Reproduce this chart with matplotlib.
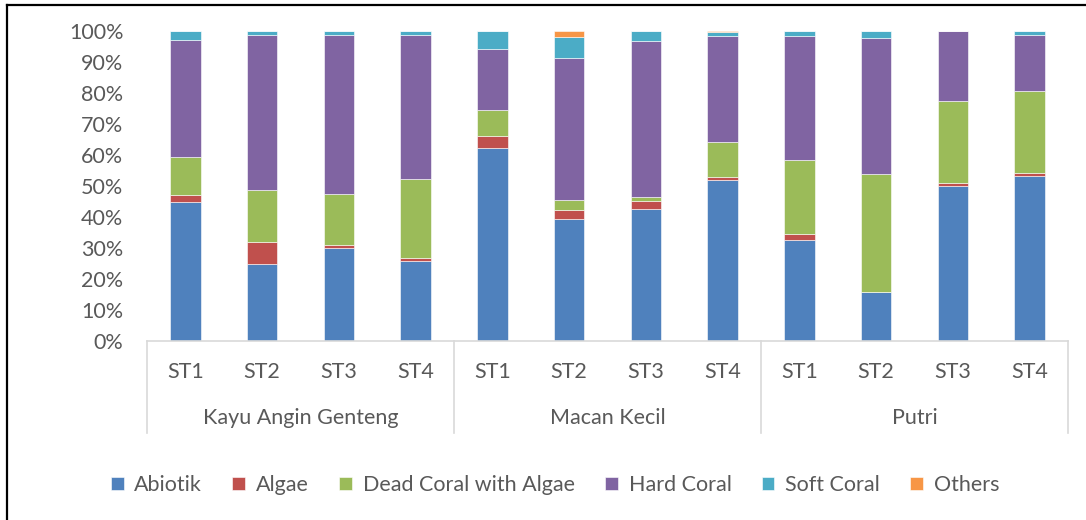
import numpy as np
import matplotlib.pyplot as plt
from matplotlib.lines import Line2D
from matplotlib.transforms import blended_transform_factory

plt.rcParams['font.family'] = ['Lato', 'DejaVu Sans']

# data (percent of cover)
groups = ["Kayu Angin Genteng", "Macan Kecil", "Putri"]
stations = ["ST1", "ST2", "ST3", "ST4"]
series = ["Abiotik", "Algae", "Dead Coral with Algae", "Hard Coral", "Soft Coral", "Others"]

abiotik = [44.8, 24.7, 29.9, 25.9, 62.3, 39.2, 42.7, 51.8, 32.5, 15.9, 50.1, 53.3]
algae = [2.3, 7.3, 1.1, 1.0, 3.9, 3.1, 2.4, 1.2, 2.1, 0.0, 1.0, 1.0]
dca = [12.4, 16.7, 16.4, 25.4, 8.2, 3.2, 1.3, 11.3, 23.7, 37.9, 26.3, 26.5]
hard_coral = [37.6, 50.1, 51.3, 46.5, 19.7, 45.8, 50.4, 34.1, 40.1, 43.9, 22.6, 18.0]
soft_coral = [2.9, 1.2, 1.3, 1.2, 5.9, 6.8, 3.2, 1.2, 1.6, 2.3, 0.0, 1.2]
others = [0.0, 0.0, 0.0, 0.0, 0.0, 1.9, 0.0, 0.4, 0.0, 0.0, 0.0, 0.0]

colors = ["#4F81BD", "#C0504D", "#9BBB59", "#8064A2", "#4BACC6", "#F79646"]
text_col = "#595959"
line_col = "#D9D9D9"
fs = 15.5

W, H = 1086, 520
fig = plt.figure(figsize=(W / 100, H / 100), dpi=100)
ax = fig.add_axes([147 / W, 1 - 341 / H, (1068 - 147) / W, (341 - 31) / H])

values = np.array([abiotik, algae, dca, hard_coral, soft_coral, others])
values = values / values.sum(axis=0) * 100
x = np.arange(len(abiotik))
bottom = np.zeros(len(x))
handles = []
for name, vals, c in zip(series, values, colors):
    b = ax.bar(x, vals, 0.4, bottom=bottom, color=c, edgecolor="white",
               linewidth=0.4, label=name)
    handles.append(b)
    bottom += vals

ax.set_xlim(-0.5, len(x) - 0.5)
ax.set_ylim(0, 100)
ax.set_yticks(np.arange(0, 101, 10))
ax.set_yticklabels([f"{v}%" for v in range(0, 101, 10)])
ax.tick_params(axis="y", length=0, pad=17, labelsize=fs, labelcolor=text_col)
ax.set_xticks([])
for s in ["left", "right", "top"]:
    ax.spines[s].set_visible(False)
ax.spines["bottom"].set_color(line_col)
ax.spines["bottom"].set_linewidth(1.2)

# two-level category axis
trans = blended_transform_factory(ax.transData, ax.transAxes)
px = 1 / 310
for i in x:
    ax.text(i, -31 * px, stations[i % 4], transform=trans, ha="center",
            va="center", fontsize=fs, color=text_col)
for g, name in enumerate(groups):
    ax.text(g * 4 + 1.5, -77 * px, name, transform=trans, ha="center",
            va="center", fontsize=fs, color=text_col)
for g in range(len(groups) + 1):
    ax.add_line(Line2D([g * 4 - 0.5] * 2, [0, -92 * px], transform=trans,
                       color=line_col, lw=1.2, clip_on=False))

fig.legend(handles, series, loc="center", bbox_to_anchor=(0.511, 1 - 485 / H),
           ncol=6, frameon=False, fontsize=fs, labelcolor=text_col,
           handlelength=0.6, handleheight=0.6, handletextpad=0.5,
           columnspacing=1.4)

# outer frame (top and left edges visible)
fig.add_artist(Line2D([7 / W, 1], [1 - 5 / H] * 2, color="black", lw=1.6))
fig.add_artist(Line2D([7 / W] * 2, [0, 1 - 5 / H], color="black", lw=1.6))

fig.savefig("out.png", dpi=100)
